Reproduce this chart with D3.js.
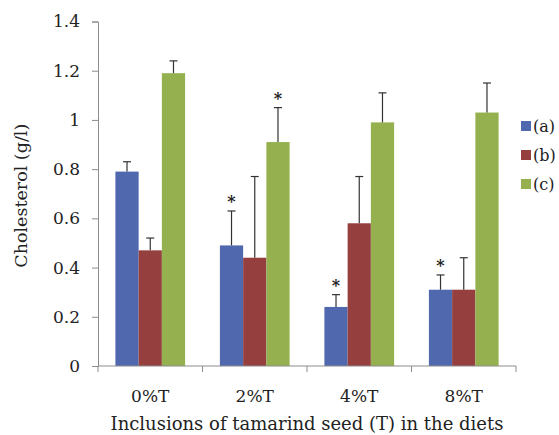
<!DOCTYPE html>
<html>
<head>
<meta charset="utf-8">
<script src="https://cdn.jsdelivr.net/npm/d3@7"></script>
<style>
  body { margin: 0; background: #fff; }
</style>
</head>
<body>
<div id="chart"></div>
<script>
const categories = ["0%T", "2%T", "4%T", "8%T"];
const seriesNames = ["(a)", "(b)", "(c)"];
const valuesA = [0.79, 0.49, 0.24, 0.31];
const valuesB = [0.47, 0.44, 0.58, 0.31];
const valuesC = [1.19, 0.91, 0.99, 1.03];
const errorsA = [0.04, 0.14, 0.05, 0.06];
const errorsB = [0.05, 0.33, 0.19, 0.13];
const errorsC = [0.05, 0.14, 0.12, 0.12];
const starsA = [false, true, true, true];
const starsB = [false, false, false, false];
const starsC = [false, true, false, false];
const yTicks = [0, 0.2, 0.4, 0.6, 0.8, 1, 1.2, 1.4];
const colors = ["#5068ae", "#953f3e", "#94b04f"];

const FONT = "DejaVu Serif, serif";

const series = [
  { name: seriesNames[0], values: valuesA, errors: errorsA, stars: starsA },
  { name: seriesNames[1], values: valuesB, errors: errorsB, stars: starsB },
  { name: seriesNames[2], values: valuesC, errors: errorsC, stars: starsC }
];

const fullWidth = 559, fullHeight = 435;
const margin = { top: 21.5, right: 43, bottom: 69, left: 98 };
const width = fullWidth - margin.left - margin.right;
const height = fullHeight - margin.top - margin.bottom;

const svg = d3.select("#chart").append("svg")
  .attr("width", fullWidth)
  .attr("height", fullHeight);

const g = svg.append("g")
  .attr("transform", `translate(${margin.left},${margin.top})`);

const x0 = d3.scaleBand().domain(categories).range([0, width]).paddingInner(0.333).paddingOuter(0.1665);
const x1 = d3.scaleBand().domain(seriesNames).range([0, x0.bandwidth()]);
const y = d3.scaleLinear().domain([0, 1.4]).range([height, 0]);
const color = d3.scaleOrdinal().domain(seriesNames).range(colors);

// === Bars ===
const groups = g.selectAll(".grp")
  .data(categories)
  .enter().append("g")
  .attr("transform", d => `translate(${x0(d)},0)`);

groups.each(function (cat, ci) {
  const grp = d3.select(this);
  series.forEach(s => {
    const v = s.values[ci];
    grp.append("rect")
      .attr("x", x1(s.name))
      .attr("y", y(v))
      .attr("width", x1.bandwidth())
      .attr("height", height - y(v))
      .attr("fill", color(s.name));
  });
});

// === Error bars (upper only) and stars ===
groups.each(function (cat, ci) {
  const grp = d3.select(this);
  series.forEach(s => {
    const cx = x1(s.name) + x1.bandwidth() / 2;
    const v = s.values[ci];
    const top = v + s.errors[ci];
    grp.append("line")
      .attr("x1", cx).attr("x2", cx)
      .attr("y1", y(v)).attr("y2", y(top))
      .attr("stroke", "#333").attr("stroke-width", 1.2);
    grp.append("line")
      .attr("x1", cx - 4).attr("x2", cx + 4)
      .attr("y1", y(top)).attr("y2", y(top))
      .attr("stroke", "#333").attr("stroke-width", 1.2);
    if (s.stars[ci]) {
      grp.append("text")
        .attr("x", cx)
        .attr("y", y(top) - 4)
        .attr("text-anchor", "middle")
        .attr("font-family", FONT)
        .style("font-size", "16px")
        .style("font-weight", "bold")
        .attr("fill", "#222")
        .text("*");
    }
  });
});

// === Axes ===
const yAxis = g.append("g")
  .call(d3.axisLeft(y).tickValues(yTicks).tickFormat(d3.format("")).tickSize(6).tickPadding(12));

const xAxis = g.append("g")
  .attr("transform", `translate(0,${height})`)
  .call(d3.axisBottom(x0).tickSize(0).tickPadding(24));
xAxis.select(".domain").attr("d", `M0,0H${width}`);

// category separator ticks
const sepTicks = d3.range(categories.length + 1).map(i => i * width / categories.length);
xAxis.selectAll(".sep")
  .data(sepTicks)
  .enter().append("line")
  .attr("x1", d => d).attr("x2", d => d)
  .attr("y1", 0).attr("y2", 6);

[yAxis, xAxis].forEach(a => {
  a.attr("font-family", FONT);
  a.selectAll("text").attr("font-family", FONT).style("font-size", "17px").attr("fill", "#222");
  a.selectAll(".domain, line").attr("stroke", "#8c8c8c");
});

// === Axis titles ===
svg.append("text")
  .attr("transform", `translate(27,${margin.top + height / 2 + 2}) rotate(-90)`)
  .attr("text-anchor", "middle")
  .attr("font-family", FONT)
  .style("font-size", "17.5px")
  .attr("fill", "#222")
  .text("Cholesterol (g/l)");

svg.append("text")
  .attr("x", margin.left + width / 2)
  .attr("y", 430)
  .attr("text-anchor", "middle")
  .attr("font-family", FONT)
  .style("font-size", "18px")
  .attr("fill", "#222")
  .text("Inclusions of tamarind seed (T) in the diets");

// === Legend ===
const legend = svg.append("g").attr("transform", "translate(521,121)");
seriesNames.forEach((n, i) => {
  const row = legend.append("g").attr("transform", `translate(0,${i * 29})`);
  row.append("rect").attr("width", 10).attr("height", 10).attr("fill", color(n));
  row.append("text").attr("x", 12).attr("y", 11)
    .attr("font-family", FONT)
    .style("font-size", "16px")
    .attr("fill", "#222")
    .text(n);
});
</script>
</body>
</html>
